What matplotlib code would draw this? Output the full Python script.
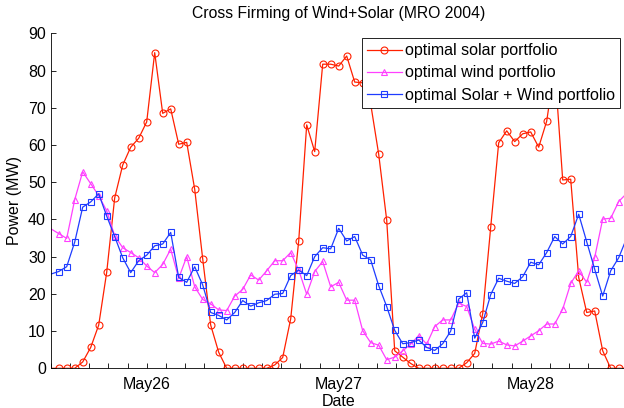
import numpy as np
import pandas as pd
import matplotlib
matplotlib.use('Agg')
from matplotlib import pyplot as plt
import matplotlib.dates as mdates
from matplotlib.ticker import MultipleLocator

plt.rcParams['font.family'] = ['Liberation Sans', 'DejaVu Sans']
plt.rcParams['font.size'] = 11.5

# hourly values, May 25 12:00 -> May 28 12:00
horas = pd.date_range('2004-05-25 12:00', '2004-05-28 12:00', freq='h')

solar = [0, 0, 0, 0, 1.7, 5.6, 11.6, 25.8, 45.8, 54.6, 59.4, 61.8, 66.2,
         84.8, 68.5, 69.7, 60.2, 60.7, 48.1, 29.4, 11.6, 4.3, 0, 0, 0,
         0, 0, 0, 0.9, 2.9, 13.3, 34.2, 65.4, 58.2, 81.7, 81.7, 81.2,
         83.9, 76.9, 76.7, 71, 57.5, 39.8, 4.7, 3.0, 1.3, 0, 0, 0,
         0, 0, 0, 1.5, 4.0, 14.7, 37.9, 60.6, 63.8, 60.9, 63.0, 63.5,
         59.4, 66.4, 81, 50.6, 50.8, 24.4, 15.0, 15.4, 4.7, 0, 0, 0]

wind = [37.5, 36.2, 34.9, 45.3, 52.8, 49.6, 46.4, 42.3, 35.6, 32.4, 31.1, 29.7, 27.5,
        25.7, 27.9, 32.0, 24.2, 30.0, 21.9, 18.5, 17.3, 15.7, 15.5, 19.4, 21.2,
        25.1, 23.7, 26.2, 28.9, 28.9, 31.1, 26.4, 19.9, 26.0, 28.7, 21.9, 23.1,
        18.3, 18.3, 10.1, 6.9, 6.2, 2.3, 3.0, 4.7, 6.5, 8.8, 6.5, 11.2,
        13.0, 13.0, 17.5, 16.6, 10.5, 6.7, 6.5, 7.3, 6.3, 6.0, 7.3, 8.7,
        10.1, 11.9, 11.9, 15.9, 22.8, 26.2, 23.1, 29.8, 40.1, 40.3, 44.8, 47]

combinado = [25.3, 26.0, 27.3, 33.9, 43.3, 44.7, 46.9, 40.9, 35.4, 29.7, 25.7, 28.9, 30.4,
             32.9, 33.4, 36.5, 24.4, 23.1, 27.3, 22.4, 15.0, 14.2, 13.0, 15.0, 18.2,
             16.7, 17.6, 18.2, 19.9, 20.1, 24.9, 26.4, 24.9, 30.0, 32.4, 32.1, 37.6,
             34.2, 35.4, 30.4, 29.1, 22.2, 16.6, 10.2, 6.6, 6.9, 7.6, 5.6, 4.8,
             6.6, 10.0, 18.6, 20.3, 8.1, 12.3, 19.8, 24.2, 23.4, 22.8, 24.6, 28.5,
             27.8, 31.1, 35.4, 33.4, 35.4, 41.4, 34.0, 26.6, 19.4, 26.2, 29.7, 35]

fig = plt.figure(figsize=(6.24, 4.08), dpi=100)
ax = fig.add_axes([50.7 / 624, (408 - 368.3) / 408, 576 / 624, 335 / 408])

marcas = slice(1, len(horas) - 1)
ax.plot(horas, solar, color='#ff2000', lw=0.9, marker='o', ms=5, mfc='none', mew=0.8,
        markevery=marcas, label='optimal solar portfolio')
ax.plot(horas, wind, color='#ff40ff', lw=0.9, marker='^', ms=5, mfc='none', mew=0.8,
        markevery=marcas, label='optimal wind portfolio')
ax.plot(horas, combinado, color='#1e3cff', lw=0.9, marker='s', ms=4.5, mfc='none', mew=0.8,
        markevery=marcas, label='optimal Solar + Wind portfolio')

ax.set_xlim(horas[0], horas[-1])
ax.set_ylim(0, 90)
ax.set_yticks(range(0, 91, 10))
ax.xaxis.set_major_locator(mdates.DayLocator())
ax.xaxis.set_major_formatter(mdates.DateFormatter('%b%d'))
ax.xaxis.set_minor_locator(MultipleLocator(0.1))
ax.tick_params(which='both', direction='in', length=3.5, width=0.6)
ax.tick_params(axis='x', pad=6)

for lado in ['top', 'right']:
    ax.spines[lado].set_visible(False)
for lado in ['left', 'bottom']:
    ax.spines[lado].set_linewidth(0.6)

ax.set_title('Cross Firming of Wind+Solar (MRO 2004)', fontsize=11.3, pad=11)
ax.set_xlabel('Date', labelpad=2)
ax.set_ylabel('Power (MW)', labelpad=4)

leg = ax.legend(loc='upper right', bbox_to_anchor=(620 / 624, (408 - 38.3) / 408),
                bbox_transform=fig.transFigure, borderaxespad=0, fancybox=False,
                framealpha=1, edgecolor='black', handlelength=2.2, handletextpad=0.2,
                labelspacing=0.46, borderpad=0.3)
leg.get_frame().set_linewidth(0.6)

fig.savefig('out.png', dpi=100)
